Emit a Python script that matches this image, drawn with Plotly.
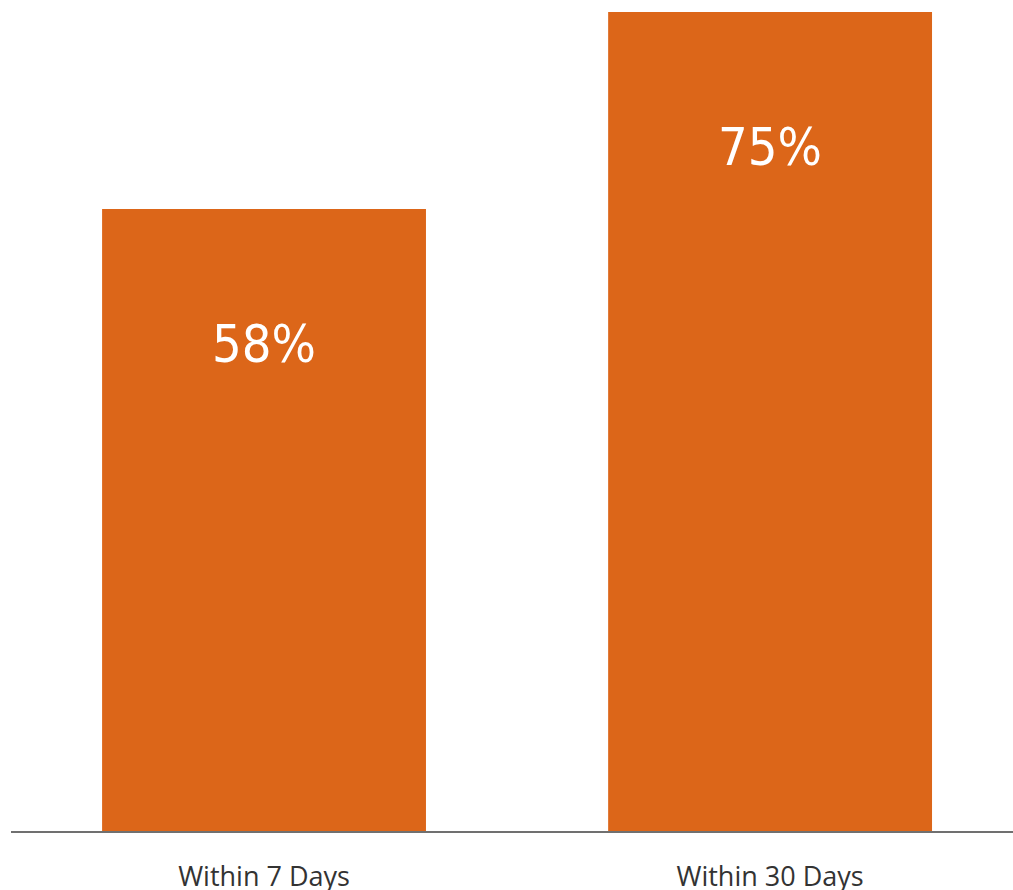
import plotly.graph_objects as go

categories = ["Within 7 Days", "Within 30 Days"]
values = [58, 75]
labels = ["58%", "75%"]

bar_color = "#DC6619"

fig = go.Figure()
fig.add_trace(go.Bar(
    x=categories, y=values, marker=dict(color=bar_color, line=dict(width=0)),
    width=0.64, hoverinfo="skip",
))

for c, v, t in zip(categories, values, labels):
    fig.add_annotation(x=c, y=v, text=t, showarrow=False, yshift=-135,
                       yanchor="middle", xanchor="center",
                       font=dict(family="DejaVu Sans Condensed, sans-serif",
                                 size=52, color="white"))

fig.update_layout(
    width=1013, height=890,
    margin=dict(l=11, r=0, t=0, b=59, autoexpand=False),
    paper_bgcolor="white", plot_bgcolor="white",
    showlegend=False,
    xaxis=dict(range=[-0.5, 1.48], showline=True, linecolor="#707070", linewidth=2,
               showgrid=False, zeroline=False, ticks="", ticklabelstandoff=21,
               automargin=False,
               tickfont=dict(family="Open Sans, sans-serif", size=27, color="#333333")),
    yaxis=dict(range=[4.32, 76.04], visible=False, showgrid=False, zeroline=False,
               automargin=False),
)

fig.write_html("out.html")
